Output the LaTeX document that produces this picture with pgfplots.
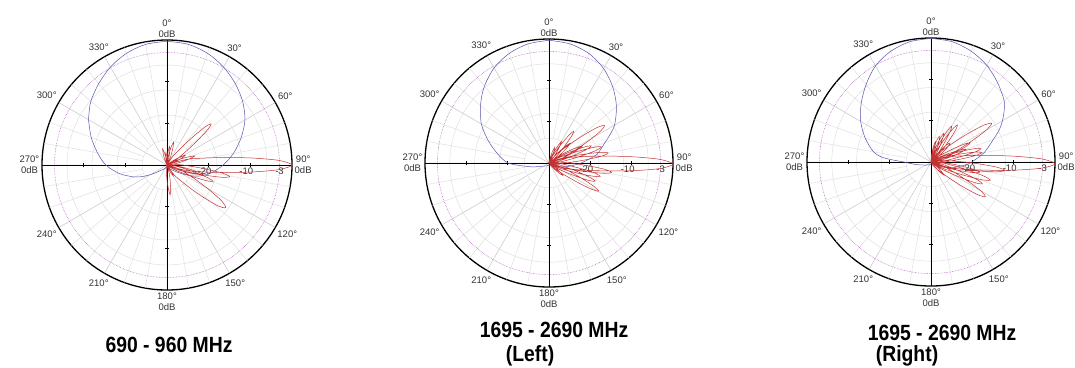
\documentclass[border=0pt]{standalone}
\usepackage{pgfplots}
\pgfplotsset{compat=1.18}
\usepgfplotslibrary{polar}
\usepackage{fontspec}
\setmainfont{Liberation Sans}
\newfontfamily\titlefont{Liberation Sans}[FakeStretch=0.88]
\definecolor{gridc}{RGB}{218,218,218}
\definecolor{dotc}{RGB}{175,90,190}
\definecolor{bluec}{RGB}{85,85,175}
\definecolor{redc}{RGB}{195,50,50}
\pgfplotsset{
  antenna/.style={
    scale only axis, width=#1, height=#1,
    xmin=0, xmax=360, ymin=0, ymax=30,
    xtick={0,30,...,330},
    xticklabels={{90°\\0dB},60°,30°,{0°\\0dB},330°,300°,{270°\\0dB},240°,210°,{180°\\0dB},150°,120°},
    ytick={6,12,18,24},
    yticklabels={},
    ymajorgrids,
    major y grid style={gridc, line width=0.4pt},
    major tick length=0pt,
    axis line style={black, line width=1.3pt},
    y axis line style={draw=none},
    xticklabel style={font=\fontsize{9.5}{11}\selectfont, align=center, inner sep=2.5pt, text=black!80},
    clip=false,
    anchor=center,
  },
  pat/.style={x filter/.expression={90-x}, y filter/.expression={y+30}, smooth, tension=0.5, line width=0.5pt},
}
\newcommand\decor[1]{%
  \pgfplotsinvokeforeach{0,10,...,350}{\draw[gridc, line width=0.4pt] (axis cs:##1,6) -- (axis cs:##1,30);}%
  \draw[dotc, densely dotted, line width=0.55pt] (axis cs:0,0) circle[radius=#1];%
  \draw[black, line width=0.9pt] (axis cs:0,30) -- (axis cs:180,30);%
  \draw[black, line width=0.9pt] (axis cs:90,30) -- (axis cs:270,30);%
  \pgfplotsinvokeforeach{10,20}{%
    \draw[black, line width=0.6pt] (axis cs:0,##1) ++(0pt,-2pt) -- ++(0pt,4pt);%
    \draw[black, line width=0.6pt] (axis cs:180,##1) ++(0pt,-2pt) -- ++(0pt,4pt);%
    \draw[black, line width=0.6pt] (axis cs:90,##1) ++(-2pt,0pt) -- ++(4pt,0pt);%
    \draw[black, line width=0.6pt] (axis cs:270,##1) ++(-2pt,0pt) -- ++(4pt,0pt);%
  }%
  \node[anchor=north, font=\fontsize{9.5}{11}\selectfont, inner sep=1pt, text=black!80] at ([xshift=-4pt,yshift=-2pt]axis cs:0,10) {-20};%
  \node[anchor=north, font=\fontsize{9.5}{11}\selectfont, inner sep=1pt, text=black!80] at ([xshift=-4pt,yshift=-2pt]axis cs:0,20) {-10};%
  \node[anchor=north, font=\fontsize{9.5}{11}\selectfont, inner sep=1pt, text=black!80] at ([xshift=0pt,yshift=-2pt]axis cs:0,27) {-3};%
}
\begin{document}
\begin{tikzpicture}
\path[use as bounding box] (0pt,0pt) rectangle (1075pt,-367pt);

% ---------- 690 - 960 MHz ----------
\begin{polaraxis}[antenna=250pt, at={(167pt,-165pt)}]
\decor{112.5pt}
\addplot[bluec, pat] coordinates {
(0,-0.3)(10,-0.6)(20,-1.5)(30,-2.85)(40,-4.5)(50,-6.3)(60,-8.4)(70,-11.1)(80,-13.8)(90,-16.5)(100,-19.2)(105,-20.7)(110,-22.2)(115,-24)(120,-25.8)(125,-27)(130,-27.9)(140,-28.65)(150,-29.1)(165,-29.4)(180,-29.4)(195,-29.4)(210,-29.1)(220,-28.65)(230,-27.9)(235,-26.85)(240,-25.35)(245,-23.4)(250,-21.6)(255,-20.1)(260,-18.3)(270,-15.3)(280,-13.05)(290,-10.65)(300,-8.25)(303,-7.65)(310,-6.15)(320,-4.5)(330,-2.85)(340,-1.5)(350,-0.6)(360,-0.3)
};
\addplot[redc, pat] coordinates {
(0,-30)
(-23.7,-28.8)(-18.7,-27.2)(-15,-26)(-11.3,-27.2)(-6.3,-28.8)
(0,-30)
(-13.7,-29.1)(-8.7,-27.9)(-5,-27)(-1.3,-27.9)(3.7,-29.1)
(0,-30)
(-0.7,-28.6)(4.3,-26.85)(8,-25.5)(11.7,-26.85)(16.7,-28.6)
(0,-30)
(7.3,-28.2)(12.3,-26)(16,-24.3)(19.7,-26)(24.7,-28.2)
(0,-30)
(33.6,-27.7)(38.3,-25.5)(41.3,-22.7)(43.3,-19.85)(45.1,-16.95)(47,-15.5)(48.9,-16.95)(50.7,-19.85)(52.7,-22.7)(55.7,-25.5)(60.4,-27.7)
(0,-30)
(53.3,-28.45)(58.3,-26.5)(62,-25)(65.7,-26.5)(70.7,-28.45)
(0,-30)
(63.3,-27.8)(68.3,-25.1)(72,-23)(75.7,-25.1)(80.7,-27.8)
(0,-30)
(74,-25.2)(79.6,-20.7)(83.2,-14.85)(85.5,-9)(87.7,-3)(90,0)(92.3,-3)(94.5,-9)(96.8,-14.85)(100.4,-20.7)(106,-25.2)
(0,-30)
(87.1,-27.55)(91.8,-25.25)(94.8,-22.3)(96.8,-19.3)(98.6,-16.2)(100.5,-14.7)(102.4,-16.2)(104.2,-19.3)(106.2,-22.3)(109.2,-25.25)(113.9,-27.55)
(0,-30)
(96.3,-27.2)(101.3,-23.7)(105,-21)(108.7,-23.7)(113.7,-27.2)
(0,-30)
(96.1,-28.1)(100.8,-26.4)(103.8,-24.1)(105.8,-21.8)(107.6,-19.5)(109.5,-18.3)(111.4,-19.5)(113.2,-21.8)(115.2,-24.1)(118.2,-26.4)(122.9,-28.1)
(0,-30)
(107.6,-27.2)(113.9,-24.6)(118,-21.2)(120.8,-17.8)(123.3,-14.3)(126,-12.6)(128.7,-14.3)(131.2,-17.8)(134,-21.2)(138.1,-24.6)(144.4,-27.2)
(0,-30)
(141.3,-29.1)(146.3,-27.9)(150,-27)(153.7,-27.9)(158.7,-29.1)
(0,-30)
(165.3,-27.8)(170.3,-25)(174,-22.8)(177.7,-25)(182.7,-27.8)
(0,-30)
};
\end{polaraxis}

% ---------- 1695 - 2690 MHz (Left) ----------
\begin{polaraxis}[antenna=248pt, at={(549pt,-163pt)}]
\decor{111.6pt}
\addplot[bluec, pat] coordinates {
(0,-0.3)(10,-0.75)(20,-1.8)(30,-3.6)(40,-6)(50,-8.7)(60,-11.7)(66,-14.1)(70,-15.6)(80,-18.3)(88,-21.6)(90,-22.2)(100,-25.2)(110,-27.3)(120,-28.5)(140,-29.1)(180,-29.4)(220,-29.1)(240,-28.5)(250,-27.6)(255,-26.4)(262,-24.3)(270,-20.1)(280,-17.4)(290,-14.4)(300,-11.1)(311,-8.1)(320,-5.7)(330,-3.45)(340,-1.8)(350,-0.75)(360,-0.3)
};
\addplot[redc, pat] coordinates {
(0,-30)
(11.3,-28.8)(16.3,-27.2)(20,-26)(23.7,-27.2)(28.7,-28.8)
(0,-30)
(21.3,-28.1)(26.3,-25.8)(30,-24)(33.7,-25.8)(38.7,-28.1)
(0,-30)
(24.6,-28.45)(29.3,-27)(32.3,-25.1)(34.3,-23.2)(36.1,-21.3)(38,-20.3)(39.9,-21.3)(41.7,-23.2)(43.7,-25.1)(46.7,-27)(51.4,-28.45)
(0,-30)
(38.3,-27.8)(43.3,-25.1)(47,-23)(50.7,-25.1)(55.7,-27.8)
(0,-30)
(40,-27.4)(45.6,-25)(49.2,-21.8)(51.5,-18.7)(53.7,-15.4)(56,-13.8)(58.3,-15.4)(60.5,-18.7)(62.8,-21.8)(66.4,-25)(72,-27.4)
(0,-30)
(54.3,-27.2)(59.3,-23.7)(63,-21)(66.7,-23.7)(71.7,-27.2)
(0,-30)
(54.6,-28.2)(59.3,-26.6)(62.3,-24.4)(64.3,-22.3)(66.1,-20.1)(68,-19)(69.9,-20.1)(71.7,-22.3)(73.7,-24.4)(76.7,-26.6)(81.4,-28.2)
(0,-30)
(59.6,-27.9)(64.3,-25.9)(67.3,-23.3)(69.3,-20.7)(71.1,-18)(73,-16.7)(74.9,-18)(76.7,-20.7)(78.7,-23.3)(81.7,-25.9)(86.4,-27.9)
(0,-30)
(67.1,-27.7)(71.8,-25.5)(74.8,-22.7)(76.8,-19.85)(78.6,-16.95)(80.5,-15.5)(82.4,-16.95)(84.2,-19.85)(86.2,-22.7)(89.2,-25.5)(93.9,-27.7)
(0,-30)
(74.5,-25.2)(80.1,-20.7)(83.7,-14.85)(86,-9)(88.2,-3)(90.5,0)(92.8,-3)(95,-9)(97.3,-14.85)(100.9,-20.7)(106.5,-25.2)
(0,-30)
(85.1,-27.55)(89.8,-25.25)(92.8,-22.3)(94.8,-19.3)(96.6,-16.2)(98.5,-14.7)(100.4,-16.2)(102.2,-19.3)(104.2,-22.3)(107.2,-25.25)(111.9,-27.55)
(0,-30)
(91.1,-27.95)(95.8,-26)(98.8,-23.5)(100.8,-21)(102.6,-18.5)(104.5,-17.2)(106.4,-18.5)(108.2,-21)(110.2,-23.5)(113.2,-26)(117.9,-27.95)
(0,-30)
(98.1,-28.1)(102.8,-26.3)(105.8,-23.9)(107.8,-21.6)(109.6,-19.2)(111.5,-18)(113.4,-19.2)(115.2,-21.6)(117.2,-23.9)(120.2,-26.3)(124.9,-28.1)
(0,-30)
(106.1,-27.8)(110.8,-25.7)(113.8,-23)(115.8,-20.3)(117.6,-17.6)(119.5,-16.2)(121.4,-17.6)(123.2,-20.3)(125.2,-23)(128.2,-25.7)(132.9,-27.8)
(0,-30)
(123.3,-28.6)(128.3,-26.85)(132,-25.5)(135.7,-26.85)(140.7,-28.6)
(0,-30)
};
\end{polaraxis}

% ---------- 1695 - 2690 MHz (Right) ----------
\begin{polaraxis}[antenna=248pt, at={(931pt,-162pt)}]
\decor{111.6pt}
\addplot[bluec, pat] coordinates {
(0,-0.1)(10,-0.45)(20,-1.5)(30,-3)(40,-4.95)(50,-6.9)(55,-8.4)(60,-10.05)(65,-11.85)(70,-13.95)(80,-16.95)(92,-20.7)(100,-23.4)(105,-24.6)(110,-26.1)(120,-27.9)(130,-28.8)(150,-29.1)(180,-29.4)(220,-29.1)(240,-28.5)(250,-27.9)(260,-26.4)(270,-23.4)(275,-18.6)(280,-15.9)(290,-13.05)(300,-10.35)(310,-7.95)(320,-5.55)(330,-3.15)(340,-1.5)(350,-0.45)(360,-0.1)
};
\addplot[redc, pat] coordinates {
(0,-30)
(3.3,-28.45)(8.3,-26.5)(12,-25)(15.7,-26.5)(20.7,-28.45)
(0,-30)
(9.3,-28)(14.3,-24.95)(18,-23.5)(21.7,-24.95)(26.7,-28)
(0,-30)
(15.3,-27.6)(20.3,-24.6)(24,-22.3)(27.7,-24.6)(32.7,-27.6)
(0,-30)
(16.6,-28.4)(21.3,-26.9)(24.3,-24.95)(26.3,-23)(28.1,-21)(30,-20)(31.9,-21)(33.7,-23)(35.7,-24.95)(38.7,-26.9)(43.4,-28.4)
(0,-30)
(22.1,-28.2)(26.8,-26.6)(29.8,-24.4)(31.8,-22.3)(33.6,-20.1)(35.5,-19)(37.4,-20.1)(39.2,-22.3)(41.2,-24.4)(44.2,-26.6)(48.9,-28.2)
(0,-30)
(36.3,-28)(41.3,-24.95)(45,-23.5)(48.7,-24.95)(53.7,-28)
(0,-30)
(41.5,-27.2)(47.1,-24.6)(50.7,-21.2)(53,-17.8)(55.2,-14.3)(57.5,-12.6)(59.8,-14.3)(62,-17.8)(64.3,-21.2)(67.9,-24.6)(73.5,-27.2)
(0,-30)
(50.6,-28.3)(55.3,-26.75)(58.3,-24.7)(60.3,-22.65)(62.1,-20.55)(64,-19.5)(65.9,-20.55)(67.7,-22.65)(69.7,-24.7)(72.7,-26.75)(77.4,-28.3)
(0,-30)
(61.3,-27.2)(66.3,-23.7)(70,-21)(73.7,-23.7)(78.7,-27.2)
(0,-30)
(61.6,-28)(66.3,-26.1)(69.3,-23.7)(71.3,-21.25)(73.1,-18.75)(75,-17.5)(76.9,-18.75)(78.7,-21.25)(80.7,-23.7)(83.7,-26.1)(88.4,-28)
(0,-30)
(66.1,-28)(70.8,-26.1)(73.8,-23.7)(75.8,-21.25)(77.6,-18.75)(79.5,-17.5)(81.4,-18.75)(83.2,-21.25)(85.2,-23.7)(88.2,-26.1)(92.9,-28)
(0,-30)
(74.8,-25.2)(80.4,-20.7)(84,-14.85)(86.3,-9)(88.5,-3)(90.8,0)(93.1,-3)(95.3,-9)(97.6,-14.85)(101.2,-20.7)(106.8,-25.2)
(0,-30)
(83.1,-27.1)(87.8,-24.4)(90.8,-20.9)(92.8,-17.4)(94.6,-13.8)(96.5,-12)(98.4,-13.8)(100.2,-17.4)(102.2,-20.9)(105.2,-24.4)(109.9,-27.1)
(0,-30)
(88.6,-28.1)(93.3,-26.3)(96.3,-23.9)(98.3,-21.6)(100.1,-19.2)(102,-18)(103.9,-19.2)(105.7,-21.6)(107.7,-23.9)(110.7,-26.3)(115.4,-28.1)
(0,-30)
(93.6,-27.6)(98.3,-25.35)(101.3,-22.4)(103.3,-19.5)(105.1,-16.5)(107,-15)(108.9,-16.5)(110.7,-19.5)(112.7,-22.4)(115.7,-25.35)(120.4,-27.6)
(0,-30)
(99.6,-27.85)(104.3,-25.8)(107.3,-23.2)(109.3,-20.55)(111.1,-17.85)(113,-16.5)(114.9,-17.85)(116.7,-20.55)(118.7,-23.2)(121.7,-25.8)(126.4,-27.85)
(0,-30)
(106.5,-27.5)(112.1,-25.2)(115.7,-22.1)(118,-19.1)(120.2,-15.95)(122.5,-14.4)(124.8,-15.95)(127,-19.1)(129.3,-22.1)(132.9,-25.2)(138.5,-27.5)
(0,-30)
(126.3,-28.6)(131.3,-26.85)(135,-25.5)(138.7,-26.85)(143.7,-28.6)
(0,-30)
};
\end{polaraxis}

\node[font=\titlefont\bfseries\fontsize{22}{26}\selectfont] at (169pt,-345pt) {690 - 960 MHz};
\node[font=\titlefont\bfseries\fontsize{22}{26}\selectfont] at (554pt,-330pt) {1695 - 2690 MHz};
\node[font=\titlefont\bfseries\fontsize{22}{26}\selectfont] at (530pt,-356pt) {(Left)};
\node[font=\titlefont\bfseries\fontsize{22}{26}\selectfont] at (942pt,-333pt) {1695 - 2690 MHz};
\node[font=\titlefont\bfseries\fontsize{22}{26}\selectfont] at (907pt,-356pt) {(Right)};
\end{tikzpicture}
\end{document}
